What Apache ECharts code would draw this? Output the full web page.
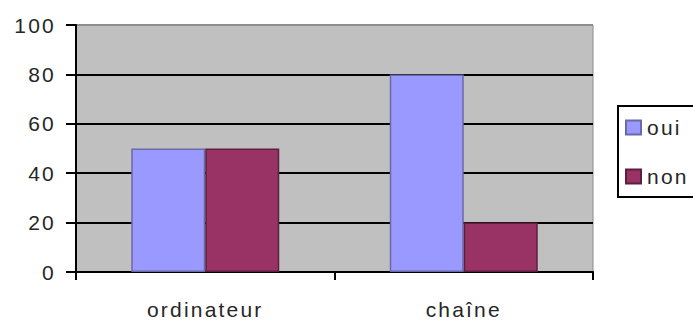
<!DOCTYPE html>
<html>
<head>
<meta charset="utf-8">
<script src="https://cdn.jsdelivr.net/npm/echarts@6/dist/echarts.min.js"></script>
<style>
  html, body { margin: 0; padding: 0; background: #ffffff; }
  #chart { width: 693px; height: 323px; letter-spacing: 2.2px; }
</style>
</head>
<body>
<div id="chart"></div>
<script>
// Survey answers per item
const categories = ['ordinateur', 'chaîne'];
const ouiValues = [50, 80];
const nonValues = [50, 20];
const yTicks = [0, 20, 40, 60, 80, 100];

const chart = echarts.init(document.getElementById('chart'), null, { renderer: 'svg' });

const labelFont = {
  fontFamily: '"Liberation Sans", Arial, sans-serif',
  fontSize: 21,
  color: '#262626'
};

chart.setOption({
  animation: false,
  backgroundColor: '#ffffff',
  grid: {
    left: 76, right: 100, top: 25, bottom: 51,
    show: true,
    backgroundColor: '#c0c0c0',
    borderColor: '#8c8c8c',
    borderWidth: 1
  },
  // legend frame runs past the right edge of the canvas
  graphic: [{
    type: 'rect',
    left: 617,
    top: 105,
    shape: { width: 120, height: 91 },
    style: { fill: '#ffffff', stroke: '#000000', lineWidth: 2 },
    z: 0
  }],
  legend: {
    orient: 'vertical',
    left: 617,
    top: 105,
    padding: [12, 8, 12, 8],
    itemWidth: 15,
    itemHeight: 14,
    itemGap: 28,
    icon: 'rect',
    z: 10,
    textStyle: Object.assign({}, labelFont, { padding: [0, 0, 0, 1] }),
    data: ['oui', 'non']
  },
  xAxis: {
    type: 'category',
    data: categories,
    boundaryGap: true,
    axisLine: { lineStyle: { color: '#000000', width: 2 } },
    axisTick: { show: true, length: 8, lineStyle: { color: '#000000', width: 2 } },
    axisLabel: Object.assign({ margin: 27 }, labelFont)
  },
  yAxis: {
    type: 'value',
    min: yTicks[0],
    max: yTicks[yTicks.length - 1],
    interval: yTicks[1] - yTicks[0],
    axisLine: { show: true, lineStyle: { color: '#000000', width: 2 } },
    axisTick: { show: true, length: 10, lineStyle: { color: '#000000', width: 2 } },
    axisLabel: Object.assign({ margin: 20 }, labelFont),
    splitLine: {
      show: true,
      lineStyle: { color: ['#000000', '#000000', '#000000', '#000000', '#000000', '#8c8c8c'], width: 2 }
    }
  },
  series: [
    {
      name: 'oui',
      type: 'bar',
      data: ouiValues,
      barWidth: 74,
      barGap: '0%',
      itemStyle: { color: '#9999ff', borderColor: '#6a6aa8', borderWidth: 1.5 }
    },
    {
      name: 'non',
      type: 'bar',
      data: nonValues,
      barWidth: 74,
      barGap: '0%',
      itemStyle: { color: '#993366', borderColor: '#5e1f3f', borderWidth: 1.5 }
    }
  ]
});
</script>
</body>
</html>
